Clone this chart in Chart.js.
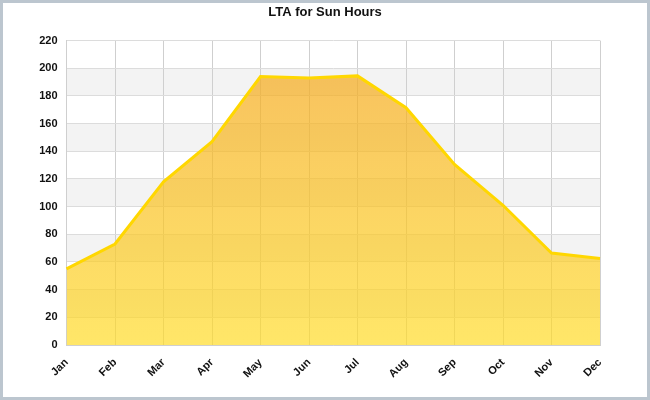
<!DOCTYPE html>
<html>
<head>
<meta charset="utf-8">
<script src="https://cdn.jsdelivr.net/npm/chart.js@4"></script>
<style>
  body { margin: 0; background: #fff; }
  #wrap {
    width: 650px; height: 400px; box-sizing: border-box;
    border: 3px solid #bcc6cf; background: #fff;
  }
</style>
</head>
<body>
<div id="wrap"><canvas id="sun"></canvas></div>
<script>
// data
const months = ["Jan", "Feb", "Mar", "Apr", "May", "Jun", "Jul", "Aug", "Sep", "Oct", "Nov", "Dec"];
const sunHours = [55, 73, 118, 147, 194, 193, 194.5, 171.5, 130.5, 101, 66.5, 62.5];
const yTicks = [0, 20, 40, 60, 80, 100, 120, 140, 160, 180, 200, 220];

// striped background bands
const bandas = {
  id: "bandas",
  beforeDraw(chart) {
    const { ctx, chartArea, scales } = chart;
    ctx.save();
    ctx.fillStyle = "#f3f3f3";
    for (let i = 1; i < yTicks.length - 1; i += 2) {
      const y1 = scales.y.getPixelForValue(yTicks[i + 1]);
      const y0 = scales.y.getPixelForValue(yTicks[i]);
      ctx.fillRect(chartArea.left, y1, chartArea.right - chartArea.left, y0 - y1);
    }
    ctx.restore();
  },
};

function preenchimento(context) {
  const area = context.chart.chartArea;
  if (!area) return "rgba(255,218,36,0.7)";
  const g = context.chart.ctx.createLinearGradient(0, area.top, 0, area.bottom);
  g.addColorStop(0, "rgba(244,165,30,0.72)");
  g.addColorStop(1, "rgba(255,220,40,0.7)");
  return g;
}

const CHART = document.querySelector("#sun");

let grafico = new Chart(CHART, {
  type: "line",
  data: {
    labels: months,
    datasets: [
      {
        label: "Sun Hours",
        data: sunHours,
        borderColor: "#ffd700",
        borderWidth: 3,
        backgroundColor: preenchimento,
        fill: "origin",
        pointRadius: 0,
        tension: 0,
      },
    ],
  },
  options: {
    responsive: true,
    maintainAspectRatio: false,
    animation: false,
    layout: { padding: 0 },
    plugins: {
      legend: { display: false },
      tooltip: { enabled: false },
      title: {
        display: true,
        text: "LTA for Sun Hours",
        color: "#111",
        font: { family: "Liberation Sans, Arial", size: 13, weight: "bold" },
        padding: { top: 2, bottom: 20 },
      },
    },
    scales: {
      x: {
        offset: false,
        grid: { color: "#cfcfcf", drawTicks: false },
        border: { color: "#cfcfcf" },
        ticks: {
          color: "#111",
          font: { family: "Liberation Sans, Arial", size: 11, weight: "bold" },
          maxRotation: 45,
          minRotation: 45,
          padding: 11,
        },
        afterFit(scale) { scale.height = 52; },
      },
      y: {
        min: 0,
        max: 220,
        grid: { color: "#dcdcdc", drawTicks: false },
        border: { color: "#cfcfcf" },
        afterBuildTicks(scale) { scale.ticks = yTicks.map(v => ({ value: v })); },
        ticks: {
          color: "#111",
          font: { family: "Liberation Sans, Arial", size: 11, weight: "bold" },
          padding: 9,
        },
        afterFit(scale) { scale.width = 63.5; },
      },
      // empty right margin so the title stays centred on the whole canvas
      margem: {
        position: "right",
        grid: { display: false },
        border: { display: false },
        ticks: { display: false },
        afterFit(scale) { scale.width = 47; },
      },
    },
  },
  plugins: [bandas],
});
</script>
</body>
</html>
